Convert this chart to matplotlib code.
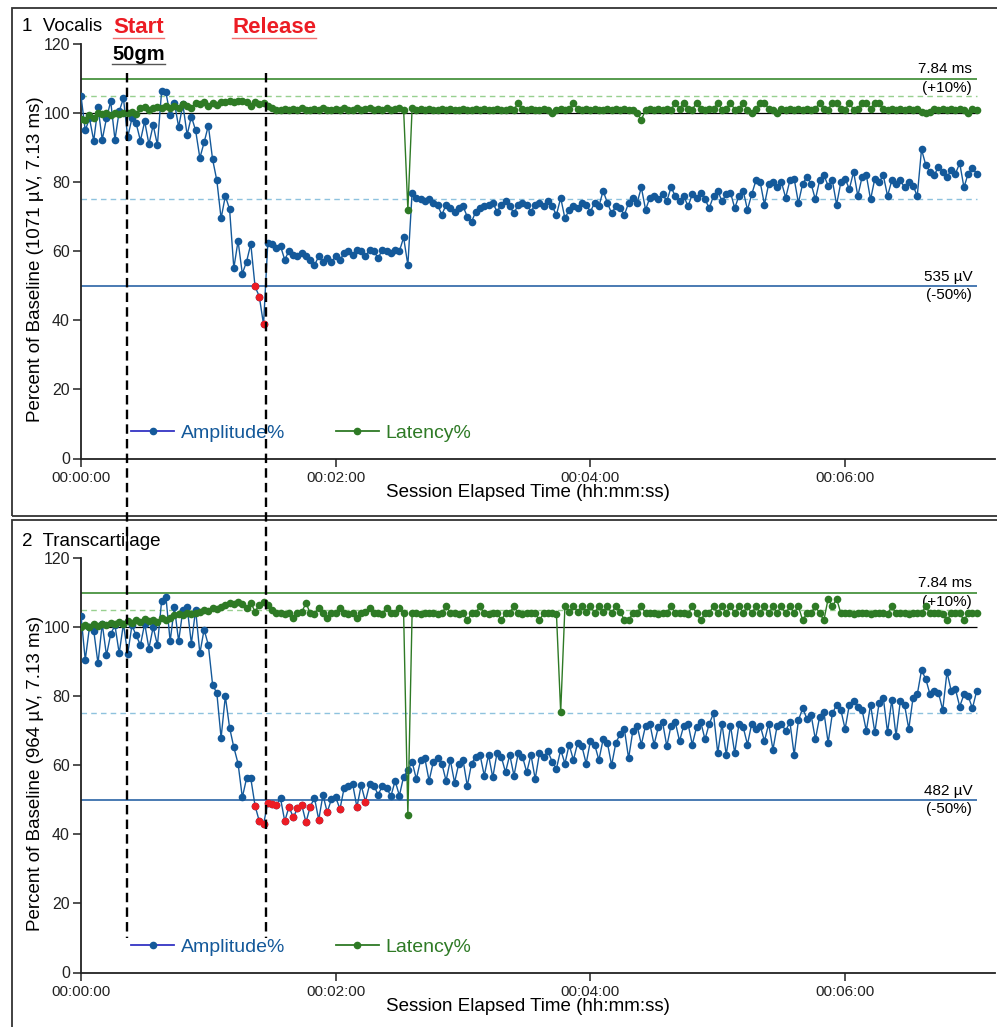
import numpy as np
import matplotlib
matplotlib.use("Agg")
import matplotlib.pyplot as plt
import matplotlib.transforms as mtransforms
from matplotlib.lines import Line2D
from matplotlib.patches import Rectangle
from matplotlib.ticker import FuncFormatter

# one sample every 2 s, values in % of baseline
SAMPLE_SEC = 2.0

# panel 1 - Vocalis
VOC_AMP = [
    105, 95, 98.5, 92, 101.7, 92.3, 98.5, 103.4, 92.3, 100.5,        # 0-18 s
    104.3, 93, 98.5, 97, 92, 97.6, 91, 96.5, 90.8, 106.5,            # 20-38 s
    106, 99.5, 103, 96, 102.5, 93.7, 99, 95, 87, 91.5,               # 40-58 s
    96.4, 86.6, 80.5, 69.5, 76, 72.2, 55.1, 63, 53.5, 57,            # 60-78 s
    62.1, 49.8, 46.9, 38.8, 62.3, 62, 61, 61.5, 57.5, 60.2,          # 80-98 s
    59, 58.5, 59.5, 58.5, 57.5, 56, 58.5, 57, 58, 57,                # 100-118 s
    58.5, 57.5, 59.5, 60, 59, 60.5, 60.2, 58.5, 60.5, 60,            # 120-138 s
    58, 60.5, 60, 59.5, 60.5, 60, 64, 56, 77, 75.5,                  # 140-158 s
    75, 74.5, 75, 74, 73.5, 70.5, 73.5, 72.5, 71.5, 72.5,            # 160-178 s
    73, 70, 68.5, 71.5, 72.5, 73, 73.5, 74, 71.5, 73.5,              # 180-198 s
    74.5, 73, 71, 73.5, 74, 73.5, 71.5, 73.5, 74, 73,                # 200-218 s
    74.5, 73, 70.5, 75.5, 69.5, 72, 73, 72.5, 74, 73.5,              # 220-238 s
    71.5, 74, 73, 77.5, 74, 71, 73, 72.5, 70.5, 74,                  # 240-258 s
    75.5, 74, 78.5, 72, 75.5, 76, 75, 76.5, 74.5, 78.5,              # 260-278 s
    76, 74.5, 76, 73, 76.5, 75.5, 77, 75, 72.5, 76,                  # 280-298 s
    77.5, 74.5, 76.5, 77, 72.5, 76, 77.5, 72, 76.5, 80.5,            # 300-318 s
    80, 73.5, 79.5, 80, 78.5, 80, 75.5, 80.5, 81, 74,                # 320-338 s
    79.5, 81.5, 79.5, 75, 80.5, 82, 79, 80.5, 73.5, 80,              # 340-358 s
    81, 78, 83, 76, 81.5, 82, 75, 81, 80, 82,                        # 360-378 s
    76, 80.5, 79.5, 80.5, 78.5, 80, 79, 76, 89.5, 85,                # 380-398 s
    83, 82, 84.5, 83, 81.5, 83.5, 82.5, 85.5, 78.5, 82.5,            # 400-418 s
    84, 82.5,                                                        # 420-422 s
]
VOC_LAT = [
    98.3, 98, 99.5, 98.5, 100, 99.8, 100, 99.5, 100, 99.8,
    100, 100, 100.2, 99.8, 101.5, 101.8, 101, 101.5, 101.8, 101.5,
    102, 101.5, 102, 101.5, 102.5, 102, 101.5, 103, 102.5, 103.2,
    102.2, 103, 102.3, 103.3, 103.3, 103.5, 103.3, 103.5, 103.4, 103.3,
    102, 103.2, 102.5, 103, 102.2, 101.5, 101, 100.8, 101.2, 100.8,
    101.2, 101, 101.5, 101, 100.8, 101.2, 101, 101.5, 100.8, 101,
    101.2, 100.8, 101.5, 101, 101, 101.5, 100.8, 101.2, 101.5, 101,
    101.2, 100.8, 101.5, 101, 101.2, 101.5, 101, 72, 101.5, 101,
    101.2, 100.8, 101.2, 101, 100.8, 101.2, 101, 101.2, 100.8, 101,
    101.2, 101, 100.8, 101.2, 101, 101.2, 101, 100.8, 101.2, 101,
    101, 101.2, 101, 103, 101.2, 101, 101.2, 101, 101, 101.2,
    101, 100, 101, 101.2, 101, 101.2, 103, 101.2, 101, 101.2,
    101, 101.2, 101, 100.8, 101.2, 101, 101.2, 101, 101.2, 101,
    101, 100, 98, 101, 101.2, 101, 101.2, 101, 101.2, 101,
    103, 101.2, 103, 101.2, 101, 103, 101.2, 101, 101.2, 101.2,
    103, 101, 101.2, 103, 101, 101.2, 103, 101, 100, 101.2,
    103, 103, 101.2, 101, 100, 101.2, 101, 101.2, 101, 101.2,
    101, 101.2, 101, 101.2, 103, 101.2, 101, 103, 103, 101.2,
    101, 103, 101, 101.2, 103, 103, 101.2, 103, 103, 101.2,
    101, 101.2, 101, 101.2, 101, 101.2, 101, 101.2, 100.2, 100,
    100.2, 101.2, 101, 101.2, 101, 101.2, 101, 101.2, 101, 100,
    101.2, 101,
]

# panel 2 - Transcartilage
TRANS_AMP = [
    103.3, 90.5, 100, 99, 89.5, 101, 91.8, 98, 100.5, 92.4,
    101, 92.2, 100.5, 97.6, 94.8, 101, 93.8, 100, 94.8, 107.7,
    108.8, 95.9, 105.8, 95.9, 105, 105.8, 95.2, 105, 92.4, 99.3,
    94.8, 83.3, 80.9, 67.9, 80, 70.9, 65.2, 60.5, 50.7, 56.2,
    56.2, 48.3, 43.8, 42.9, 49.2, 48.9, 48.5, 50.4, 43.8, 48,
    44.9, 47.5, 48.5, 43.5, 48, 50.6, 44.2, 51.4, 46.4, 50.2,
    50.8, 47.3, 53.5, 54, 54.5, 47.9, 54.2, 49.5, 54.5, 54,
    51.5, 54, 53.5, 51, 55.5, 51.2, 56.7, 58.5, 61, 56,
    61.5, 62, 55.5, 61, 62.2, 60.5, 55.5, 61.5, 55, 60.5,
    61.5, 54, 60.5, 62.5, 63, 57, 63, 56.5, 63.5, 62.5,
    58, 63, 57, 63.5, 62.5, 58, 63, 56, 63.5, 62.5,
    64, 61, 59, 64.5, 60.5, 66, 61.5, 66.5, 65.5, 60.5,
    67, 66, 61.5, 67.5, 66.5, 60, 66.5, 69, 70.5, 62,
    70, 71.5, 66, 71.5, 72, 66, 71, 72.5, 65.5, 71.5,
    72.5, 67, 71.5, 72, 66, 71, 72.5, 67.5, 72, 75,
    63.5, 72, 63, 71.5, 63.5, 72, 71, 66, 72, 70.5,
    71.5, 67, 72, 64.5, 71.5, 72, 70, 72.5, 63, 73,
    76.5, 73.5, 74.5, 67.5, 74, 75.5, 66.5, 75, 77.5, 76,
    70.5, 77.5, 78.5, 77, 76, 70, 77.5, 69.5, 78, 79.5,
    69.5, 79, 68.5, 78.5, 77.5, 70.5, 79.5, 80.5, 87.5, 85,
    80.5, 81.5, 81, 76, 87, 81.5, 82, 77, 80.5, 80,
    76.5, 81.5,
]
TRANS_LAT = [
    100, 100.5, 100, 100.8, 100.2, 101, 100.5, 101.2, 100.8, 101.5,
    101, 101.8, 101.2, 102, 101.5, 102.3, 101.8, 102.2, 101.5, 102.5,
    102, 102.5, 103.5, 103.8, 103.5, 104, 103.8, 104.2, 104.5, 105,
    104.8, 105.5, 105.2, 105.8, 106.5, 107, 106.8, 107.2, 106.8, 105.5,
    107, 104.5, 106.5, 107.2, 106.5, 105, 104, 104, 103.8, 104.2,
    102.5, 104, 104.3, 107, 104, 103.8, 105.5, 104, 102.5, 104.2,
    104, 105.5, 104, 103.8, 104.2, 102.5, 104, 104.5, 105.5, 104,
    104.2, 103.8, 105.5, 104, 104.2, 105.5, 104, 45.5, 104, 104.2,
    103.8, 104, 104.2, 104, 103.8, 104, 106, 104.2, 104, 103.8,
    104, 102, 104, 104.2, 106, 104, 103.8, 104, 104.2, 102,
    104, 104.2, 106, 104, 103.8, 104, 104.2, 104, 102, 104,
    104.2, 104, 103.8, 75.4, 106, 104.5, 106, 104.5, 106, 104.5,
    106, 104.2, 106, 104.5, 106, 104.2, 106, 104.5, 102, 102,
    104, 104.2, 106, 104, 104.2, 104, 103.8, 104, 104.2, 106,
    104, 104.2, 104, 103.8, 106, 104, 102, 104, 104.2, 106,
    104, 106, 104.2, 106, 104, 106, 104.2, 106, 104, 106,
    104.2, 106, 104, 106, 104.2, 106, 104, 106, 104.2, 106,
    102, 104, 104.2, 106, 104, 102, 108.2, 106, 108.2, 104,
    104.2, 104, 103.8, 104, 104.2, 104, 103.8, 104, 104.2, 104,
    103.8, 106, 104, 104.2, 104, 103.8, 104, 104.2, 104, 106,
    104, 104.2, 104, 103.8, 102, 104, 104.2, 104, 102, 104,
    104.2, 104,
]

PANEL_TITLES = ["1  Vocalis", "2  Transcartilage"]
Y_LABELS = ["Percent of Baseline (1071 µV, 7.13 ms)",
            "Percent of Baseline (964 µV, 7.13 ms)"]
AMP_LIMIT_TEXT = ["535 µV", "482 µV"]
LAT_LIMIT_TEXT = "7.84 ms"
START_SEC = 21.8      # 50 gm load applied
RELEASE_SEC = 87.0    # load released
AMP_ALARM, AMP_WARN = 50, 75
LAT_ALARM, LAT_WARN = 110, 105
XTICKS_SEC = [0, 120, 240, 360]
YTICKS = [0, 20, 40, 60, 80, 100, 120]

BLUE = "#14599a"
BLUE_LINE = "#2a64a6"
BLUE_LIGHT = "#8ec2de"
GREEN = "#2e7a25"
GREEN_LIGHT = "#98d08f"
RED = "#ec1c24"
LEGEND_BLUE = "#3434c4"

plt.rcParams["font.family"] = ["Liberation Sans", "DejaVu Sans"]

W, H = 997, 1027
fig = plt.figure(figsize=(W / 100, H / 100), dpi=100)

# both panels share the same pixel geometry
AX_LEFT, AX_RIGHT = 81, 995
PX_PER_UNIT = 3.454
zero_rows = [458.5, 972.5]


def hms(x, pos):
    x = int(round(x))
    return f"{x // 3600:02d}:{(x % 3600) // 60:02d}:{x % 60:02d}"


def draw_panel(ax, amp, lat, ylabel, amp_text):
    t = np.arange(len(amp)) * SAMPLE_SEC
    amp = np.asarray(amp, dtype=float)
    lat = np.asarray(lat, dtype=float)
    end = t[-1]

    ax.hlines(LAT_ALARM, 0, end, color="#3a8a30", lw=1.2, zorder=1)
    ax.hlines(LAT_WARN, 0, end, color=GREEN_LIGHT, lw=1.0, linestyles=(0, (4, 3)), zorder=1)
    ax.hlines(100, 0, end, color="black", lw=0.9, zorder=1)
    ax.hlines(AMP_WARN, 0, end, color=BLUE_LIGHT, lw=1.0, linestyles=(0, (4, 3)), zorder=1)
    ax.hlines(AMP_ALARM, 0, end, color=BLUE_LINE, lw=1.2, zorder=1)

    ax.plot(t, amp, "-o", color=BLUE, lw=1.0, ms=5.5, mew=0, zorder=3)
    low = amp < AMP_ALARM
    ax.plot(t[low], amp[low], "o", color=RED, ms=5.5, mew=0, zorder=4)
    ax.plot(t, lat, "-o", color=GREEN, lw=1.0, ms=5.5, mew=0, zorder=5)

    trans = mtransforms.blended_transform_factory(ax.transAxes, ax.transData)
    lab_x = 0.975
    for y, top, bottom in ((LAT_ALARM, LAT_LIMIT_TEXT, "(+10%)"),
                           (AMP_ALARM, amp_text, "(-50%)")):
        ax.annotate(top, xy=(lab_x, y), xycoords=trans, xytext=(0, 1.5),
                    textcoords="offset points", ha="right", va="bottom", fontsize=11)
        ax.annotate(bottom, xy=(lab_x, y), xycoords=trans, xytext=(0, -1.5),
                    textcoords="offset points", ha="right", va="top", fontsize=11)

    ax.set_xlim(0, (AX_RIGHT - AX_LEFT) / 2.1225)
    ax.set_ylim(0, 120)
    ax.set_xticks(XTICKS_SEC)
    ax.xaxis.set_major_formatter(FuncFormatter(hms))
    ax.set_yticks(YTICKS)
    for s in ("top", "right"):
        ax.spines[s].set_visible(False)
    for s in ("left", "bottom"):
        ax.spines[s].set_linewidth(1.3)
        ax.spines[s].set_color("#222222")
    ax.tick_params(direction="out", length=6, width=1.1, pad=3, colors="#222222")
    ax.tick_params(axis="y", labelsize=11.5, pad=2)
    ax.tick_params(axis="x", labelsize=11)

    ax.set_ylabel(ylabel, fontsize=13.5)
    ax.yaxis.set_label_coords(-0.040, 0.48)
    ax.set_xlabel("Session Elapsed Time (hh:mm:ss)", fontsize=13.5)
    ax.xaxis.set_label_coords(0.489, -0.083)
    ax.xaxis.label.set_va("center")

    handles = [Line2D([], [], color=LEGEND_BLUE, marker="o", mfc=BLUE, mec=BLUE, ms=4.5, lw=1.3),
               Line2D([], [], color=GREEN, marker="o", ms=4.5, lw=1.3)]
    ax.legend(handles, ["Amplitude%", "Latency%"], ncol=2, loc="center left",
              bbox_to_anchor=(0.055, 0.061), frameon=False, handlelength=2.2,
              handletextpad=0.35, columnspacing=2.6, borderpad=0, borderaxespad=0,
              labelcolor=[BLUE, GREEN], prop={"size": 14})


axes = []
for zero_y in zero_rows:
    ax = fig.add_axes([AX_LEFT / W, 1 - zero_y / H, (AX_RIGHT - AX_LEFT) / W, 120 * PX_PER_UNIT / H])
    axes.append(ax)

draw_panel(axes[0], VOC_AMP, VOC_LAT, Y_LABELS[0], AMP_LIMIT_TEXT[0])
draw_panel(axes[1], TRANS_AMP, TRANS_LAT, Y_LABELS[1], AMP_LIMIT_TEXT[1])

# panel frames
fig.add_artist(Rectangle((12 / W, 1 - 516 / H), 2, 508 / H, transform=fig.transFigure,
                         fill=False, ec="#333333", lw=1.3))
fig.add_artist(Rectangle((12 / W, -0.2), 2, 0.2 + 1 - 520 / H, transform=fig.transFigure,
                         fill=False, ec="#333333", lw=1.3))

for i, title in enumerate(PANEL_TITLES):
    base = [31, 546][i]
    fig.text(22 / W, 1 - base / H, title, fontsize=13.5, va="baseline")

# event markers spanning both panels
vtrans = mtransforms.blended_transform_factory(axes[0].transData, fig.transFigure)
for sec in (START_SEC, RELEASE_SEC):
    fig.add_artist(Line2D([sec, sec], [1 - 73 / H, 1 - 938 / H], transform=vtrans,
                          color="black", lw=1.7, ls=(0, (4, 2.2)), zorder=6))

start_txt = fig.text(113 / W, 1 - 32.7 / H, "Start", color=RED, fontsize=16,
                     fontweight="bold", va="baseline")
release_txt = fig.text(232 / W, 1 - 32.7 / H, "Release", color=RED, fontsize=16,
                       fontweight="bold", va="baseline")
load_txt = fig.text(112 / W, 1 - 60 / H, "50gm", color="black", fontsize=14.5,
                    fontweight="bold", va="baseline")

fig.canvas.draw()
renderer = fig.canvas.get_renderer()
inv = fig.transFigure.inverted()
for txt, col in ((start_txt, "#f07070"), (release_txt, "#f07070"), (load_txt, "#555555")):
    bb = txt.get_window_extent(renderer).transformed(inv)
    fig.add_artist(Line2D([bb.x0, bb.x1], [bb.y0, bb.y0], transform=fig.transFigure,
                          color=col, lw=1.0))

fig.savefig("out.png", dpi=100)
